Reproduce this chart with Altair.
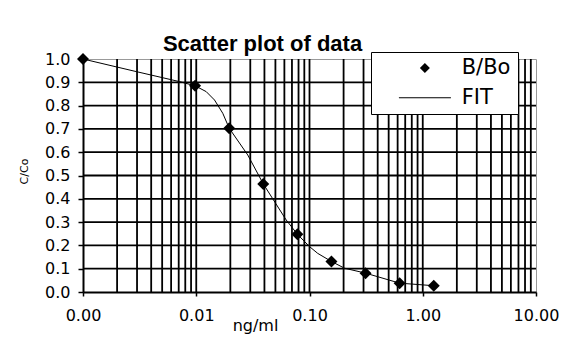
import altair as alt
import pandas as pd

# measured data points (B/Bo)
point_x = [0.001, 0.0097656, 0.0195313, 0.0390625, 0.078125, 0.15625, 0.3125, 0.625, 1.25]
point_y = [1.0, 0.885, 0.703, 0.464, 0.248, 0.131, 0.081, 0.038, 0.027]

# fitted curve
fit_x = [0.001, 0.00295, 0.0071, 0.0097656, 0.01224, 0.0145, 0.01715, 0.0195313, 0.0285,
         0.0390625, 0.0623, 0.078125, 0.1, 0.118, 0.15625, 0.204, 0.3125, 0.625, 1.25]
fit_y = [1.0, 0.946, 0.903, 0.885, 0.86, 0.824, 0.767, 0.703, 0.588,
         0.464, 0.309, 0.248, 0.195, 0.166, 0.131, 0.102, 0.081, 0.038, 0.027]

x_ticks = [0.001, 0.01, 0.1, 1, 10]
y_ticks = [0.0, 0.1, 0.2, 0.3, 0.4, 0.5, 0.6, 0.7, 0.8, 0.9, 1.0]
x_grid = [0.002, 0.003, 0.004, 0.005, 0.006, 0.007, 0.008, 0.009,
          0.01, 0.02, 0.03, 0.04, 0.05, 0.06, 0.07, 0.08, 0.09,
          0.1, 0.2, 0.3, 0.4, 0.5, 0.6, 0.7, 0.8, 0.9,
          1, 2, 3, 4, 5, 6, 7, 8, 9]
y_grid = [0.1, 0.2, 0.3, 0.4, 0.5, 0.6, 0.7, 0.8, 0.9]
legend_labels = ["B/Bo", "FIT"]

pts = pd.DataFrame({"x": point_x, "y": point_y, "series": legend_labels[0]})
fit = pd.DataFrame({"x": fit_x, "y": fit_y})
gx = pd.DataFrame({"x": x_grid})
gy = pd.DataFrame({"y": y_grid})

FONT = "DejaVu Sans"
xscale = alt.Scale(type="log", domain=[0.001, 10], nice=False)
yscale = alt.Scale(domain=[0, 1], nice=False, zero=False)

xaxis = alt.Axis(values=x_ticks, format=".2f", title="ng/ml", grid=False,
                 labelFont=FONT, labelFontSize=16, labelColor="black",
                 labelFlush=False, labelOverlap=False, labelPadding=11,
                 tickColor="black", tickSize=4, tickWidth=1.5,
                 domainColor="black", domainWidth=2,
                 titleFont=FONT, titleFontSize=16, titleFontWeight="normal",
                 titleColor="black", titleX=172, titleY=33,
                 titleAlign="center", titleBaseline="middle")
yaxis = alt.Axis(values=y_ticks, format=".1f", title="C/Co", grid=False,
                 labelFont=FONT, labelFontSize=16, labelColor="black",
                 labelFlush=False, labelOverlap=False, labelPadding=8,
                 tickColor="black", tickSize=5, tickWidth=1.5,
                 domainColor="black", domainWidth=2,
                 titleFont=FONT, titleFontSize=11, titleFontWeight="normal",
                 titleColor="black", titleX=-59, titleY=112, titleAngle=270,
                 titleAlign="center", titleBaseline="middle")

vgrid = alt.Chart(gx).mark_rule(color="black", strokeWidth=1.8).encode(
    x=alt.X("x:Q", scale=xscale, axis=xaxis))
hgrid = alt.Chart(gy).mark_rule(color="black", strokeWidth=1.8).encode(
    y=alt.Y("y:Q", scale=yscale, axis=yaxis))

line = alt.Chart(fit).mark_line(color="black", strokeWidth=1).encode(
    x=alt.X("x:Q", scale=xscale, axis=xaxis),
    y=alt.Y("y:Q", scale=yscale, axis=yaxis))

diamond_path = "M-1,0L0,-1L1,0L0,1ZM16.9,0"
line_path = "M-5.2,-0.09L5.2,-0.09L5.2,0.09L-5.2,0.09Z"

points = alt.Chart(pts).mark_point(filled=True, color="black", size=144, opacity=1).encode(
    x=alt.X("x:Q", scale=xscale, axis=xaxis),
    y=alt.Y("y:Q", scale=yscale, axis=yaxis),
    shape=alt.Shape("series:N",
                    scale=alt.Scale(domain=legend_labels, range=[diamond_path, line_path]),
                    legend=alt.Legend(title=None, orient="none", legendX=288, legendY=-7,
                                      padding=5.5, strokeColor="black", fillColor="white",
                                      labelFont=FONT, labelFontSize=21, labelColor="black",
                                      symbolOffset=37.9, labelOffset=26.3, rowPadding=7.7)))

chart = alt.layer(vgrid, hgrid, line, points).properties(
    width=453, height=233,
    title=alt.TitleParams(text="Scatter plot of data", font="Liberation Sans", fontSize=22,
                          fontWeight="bold", color="black", anchor="middle", frame="group",
                          dx=-47, dy=23, offset=1, baseline="alphabetic"),
    autosize=alt.AutoSizeParams(type="none"),
    padding={"left": 75, "top": 51, "right": 24, "bottom": 45},
).configure_view(stroke="#999999", strokeWidth=1)

chart.save("out.html", embed_options={"renderer": "svg", "actions": False})
